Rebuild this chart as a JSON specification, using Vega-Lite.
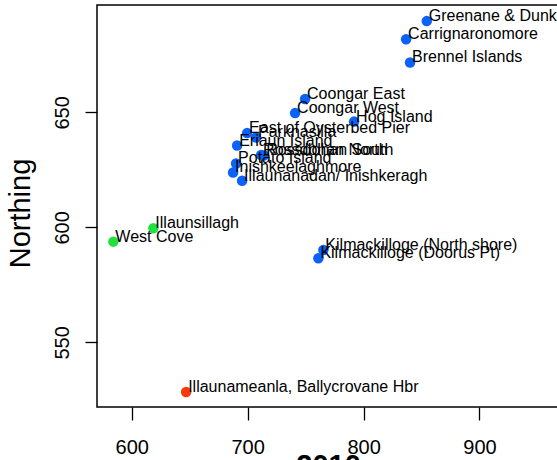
{
  "$schema": "https://vega.github.io/schema/vega-lite/v6.json",
  "width": 462,
  "height": 402,
  "autosize": {"type": "none"},
  "padding": {"left": 97, "top": 5, "right": 0, "bottom": 53},
  "config": {"view": {"stroke": "black", "strokeWidth": 1.5}, "font": "Liberation Sans"},
  "data": {
    "values": [
      {"site": "Greenane & Dunkerron", "easting": 854.5, "northing": 689.7, "grp": "A"},
      {"site": "Carrignaronomore", "easting": 836.7, "northing": 681.8, "grp": "A"},
      {"site": "Brennel Islands", "easting": 840.1, "northing": 671.7, "grp": "A"},
      {"site": "Coongar East", "easting": 749.5, "northing": 655.8, "grp": "A"},
      {"site": "Coongar West", "easting": 740.9, "northing": 649.7, "grp": "A"},
      {"site": "Hog Island", "easting": 791.8, "northing": 646.0, "grp": "A"},
      {"site": "East of Oysterbed Pier", "easting": 699.5, "northing": 641.0, "grp": "A"},
      {"site": "Parknasilla", "easting": 707.2, "northing": 639.1, "grp": "A"},
      {"site": "Eriaun Island", "easting": 690.9, "northing": 635.6, "grp": "A"},
      {"site": "Rossdohan North", "easting": 711.6, "northing": 631.5, "grp": "A"},
      {"site": "Rossdohan South", "easting": 714.2, "northing": 631.3, "grp": "A"},
      {"site": "Potato Island", "easting": 690.0, "northing": 627.8, "grp": "A"},
      {"site": "Inishkeelaghmore", "easting": 687.4, "northing": 623.9, "grp": "A"},
      {"site": "Illaunanadan/ Inishkeragh", "easting": 695.2, "northing": 620.3, "grp": "A"},
      {"site": "West Cove", "easting": 584.1, "northing": 593.8, "grp": "B"},
      {"site": "Illaunsillagh", "easting": 618.6, "northing": 599.6, "grp": "B"},
      {"site": "Kilmackilloge (North shore)", "easting": 765.3, "northing": 590.2, "grp": "A"},
      {"site": "Kilmackilloge (Doorus Pt)", "easting": 761.0, "northing": 586.6, "grp": "A"},
      {"site": "Illaunameanla, Ballycrovane Hbr", "easting": 646.9, "northing": 528.4, "grp": "C"}
    ]
  },
  "encoding": {
    "x": {
      "field": "easting",
      "type": "quantitative",
      "scale": {"domain": [570, 968.6], "nice": false, "zero": false},
      "axis": {
        "values": [600, 700, 800, 900],
        "grid": false,
        "domain": false,
        "tickColor": "black",
        "tickSize": 13,
        "tickWidth": 1.3,
        "labelFontSize": 20,
        "labelColor": "black",
        "labelFont": "Liberation Sans",
        "labelBaseline": "alphabetic",
        "labelPadding": 33,
        "title": "2010",
        "titleFontSize": 29,
        "titleFontWeight": "bold",
        "titleColor": "black",
        "titleFont": "Liberation Sans",
        "titleBaseline": "top",
        "titleY": 44
      }
    },
    "y": {
      "field": "northing",
      "type": "quantitative",
      "scale": {"domain": [521.9, 696.7], "nice": false, "zero": false},
      "axis": {
        "values": [550, 600, 650],
        "grid": false,
        "domain": false,
        "tickColor": "black",
        "tickSize": 12,
        "tickWidth": 1.3,
        "labelFontSize": 20,
        "labelColor": "black",
        "labelFont": "Liberation Sans",
        "labelAngle": 270,
        "labelAlign": "center",
        "labelBaseline": "alphabetic",
        "labelPadding": 16.5,
        "title": "Northing",
        "titleFontSize": 29,
        "titleFontWeight": "normal",
        "titleColor": "black",
        "titleFont": "Liberation Sans",
        "titleAngle": 270,
        "titleAlign": "center",
        "titleBaseline": "alphabetic",
        "titleX": -68,
        "titleY": 208
      }
    }
  },
  "layer": [
    {
      "mark": {"type": "circle", "opacity": 1, "size": 110},
      "encoding": {
        "color": {
          "field": "grp",
          "type": "nominal",
          "scale": {"domain": ["A", "B", "C"], "range": ["#0a62fa", "#22e040", "#f53a0c"]},
          "legend": null
        }
      }
    },
    {
      "mark": {"type": "text", "align": "left", "baseline": "alphabetic", "dx": 2, "fontSize": 16, "font": "Liberation Sans", "color": "black"},
      "encoding": {"text": {"field": "site"}}
    }
  ]
}
